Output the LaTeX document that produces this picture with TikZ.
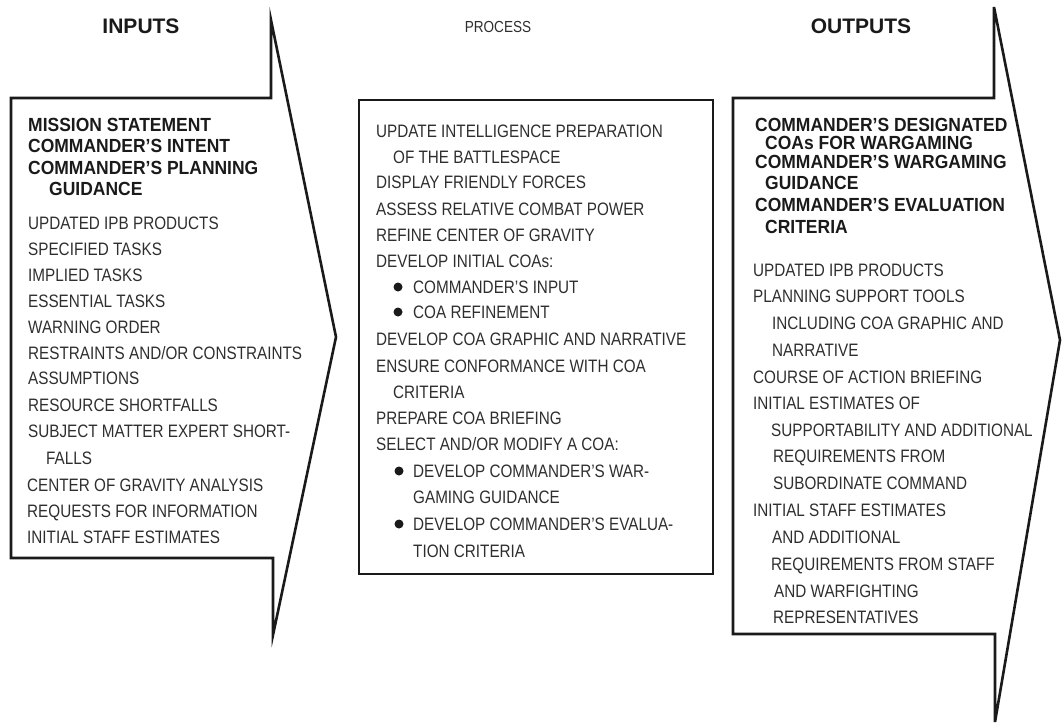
\documentclass[tikz,border=0pt]{standalone}
\usepackage{fontspec}
\setmainfont{Liberation Sans}
\newfontfamily\narfont{Liberation Sans}[FakeStretch=0.848]
\newfontfamily\bnarfont{Liberation Sans}[FakeStretch=0.92]
\definecolor{ink}{HTML}{1A1A1A}
\definecolor{txt}{HTML}{2E2E2E}
\newcommand\rline[4]{\node[regtxt] (#1) at (#2,#3) {#4};}
\newcommand\bline[4]{\node[boldtxt] (#1) at (#2,#3) {#4};}
\newcommand\bull[3]{\node[bulletdot] (#1) at (#2,#3) {};}
\begin{document}
\begin{tikzpicture}[x=1pt,y=-1pt,
  regtxt/.style={anchor=base west,inner sep=0pt,text=txt,font=\narfont\fontsize{18}{21}\selectfont},
  boldtxt/.style={anchor=base west,inner sep=0pt,text=ink,font=\bnarfont\bfseries\fontsize{19}{22}\selectfont},
  headtxt/.style={anchor=base,inner sep=0pt,text=ink,font=\bfseries\fontsize{21}{24}\selectfont},
  prochead/.style={anchor=base,inner sep=0pt,text=txt,font=\narfont\fontsize{16}{19}\selectfont},
  bulletdot/.style={circle,fill=ink,inner sep=0pt,minimum size=9pt},
  outline/.style={draw=ink,line width=2.6pt,line join=miter}]
\useasboundingbox (0,0) rectangle (1062,723);
% shapes
\draw[outline] (11,98) -- (271,98) -- (271,20) -- (336,337) -- (273,635) -- (273,558) -- (11,558) -- cycle;
\draw[outline] (359,100) rectangle (713,574);
\draw[outline] (733,98) -- (994,98) -- (994,7) -- (1060,340) -- (995,722) -- (995,634) -- (733,634) -- cycle;
% headers
\node[headtxt] (hin) at (141,33) {INPUTS};
\node[prochead] (hpr) at (498,32) {PROCESS};
\node[headtxt] (hout) at (861,33) {OUTPUTS};
% inputs
\bline{lb1}{28}{131}{MISSION STATEMENT}
\bline{lb2}{28}{152}{COMMANDER’S INTENT}
\bline{lb3}{28}{174}{COMMANDER’S PLANNING}
\bline{lb4}{49}{195}{GUIDANCE}
\rline{l1}{28}{229}{UPDATED IPB PRODUCTS}
\rline{l2}{28}{255}{SPECIFIED TASKS}
\rline{l3}{28}{281}{IMPLIED TASKS}
\rline{l4}{28}{307}{ESSENTIAL TASKS}
\rline{l5}{28}{333}{WARNING ORDER}
\rline{l6}{28}{359}{RESTRAINTS AND/OR CONSTRAINTS}
\rline{l7}{28}{384}{ASSUMPTIONS}
\rline{l8}{28}{411}{RESOURCE SHORTFALLS}
\rline{l9}{28}{437}{SUBJECT MATTER EXPERT SHORT-}
\rline{l10}{46}{464}{FALLS}
\rline{l11}{27}{491}{CENTER OF GRAVITY ANALYSIS}
\rline{l12}{27}{517}{REQUESTS FOR INFORMATION}
\rline{l13}{27}{543}{INITIAL STAFF ESTIMATES}
% process
\rline{m1}{376}{137}{UPDATE INTELLIGENCE PREPARATION}
\rline{m2}{393}{163}{OF THE BATTLESPACE}
\rline{m3}{376}{188}{DISPLAY FRIENDLY FORCES}
\rline{m4}{376}{215}{ASSESS RELATIVE COMBAT POWER}
\rline{m5}{376}{241}{REFINE CENTER OF GRAVITY}
\rline{m6}{376}{267}{DEVELOP INITIAL COAs:}
\bull{mb1}{398}{287}
\rline{m7}{413}{293}{COMMANDER’S INPUT}
\bull{mb2}{398}{312}
\rline{m8}{413}{318}{COA REFINEMENT}
\rline{m9}{376}{345}{DEVELOP COA GRAPHIC AND NARRATIVE}
\rline{m10}{376}{372}{ENSURE CONFORMANCE WITH COA}
\rline{m11}{393}{398}{CRITERIA}
\rline{m12}{376}{424}{PREPARE COA BRIEFING}
\rline{m13}{376}{450}{SELECT AND/OR MODIFY A COA:}
\bull{mb3}{399}{471}
\rline{m14}{413}{477}{DEVELOP COMMANDER’S WAR-}
\rline{m15}{413}{503}{GAMING GUIDANCE}
\bull{mb4}{399}{524}
\rline{m16}{413}{530}{DEVELOP COMMANDER’S EVALUA-}
\rline{m17}{413}{557}{TION CRITERIA}
% outputs
\bline{rb1}{755}{131}{COMMANDER’S DESIGNATED}
\bline{rb2}{765}{149}{COAs FOR WARGAMING}
\bline{rb3}{755}{168}{COMMANDER’S WARGAMING}
\bline{rb4}{765}{189}{GUIDANCE}
\bline{rb5}{755}{211}{COMMANDER’S EVALUATION}
\bline{rb6}{765}{233}{CRITERIA}
\rline{r1}{753}{276}{UPDATED IPB PRODUCTS}
\rline{r2}{753}{302}{PLANNING SUPPORT TOOLS}
\rline{r3}{772}{329}{INCLUDING COA GRAPHIC AND}
\rline{r4}{772}{356}{NARRATIVE}
\rline{r5}{753}{383}{COURSE OF ACTION BRIEFING}
\rline{r6}{753}{409}{INITIAL ESTIMATES OF}
\rline{r7}{771}{436}{SUPPORTABILITY AND ADDITIONAL}
\rline{r8}{773}{462}{REQUIREMENTS FROM}
\rline{r9}{773}{489}{SUBORDINATE COMMAND}
\rline{r10}{753}{516}{INITIAL STAFF ESTIMATES}
\rline{r11}{772}{543}{AND ADDITIONAL}
\rline{r12}{771}{570}{REQUIREMENTS FROM STAFF}
\rline{r13}{774}{597}{AND WARFIGHTING}
\rline{r14}{773}{623}{REPRESENTATIVES}
\end{tikzpicture}
\end{document}
